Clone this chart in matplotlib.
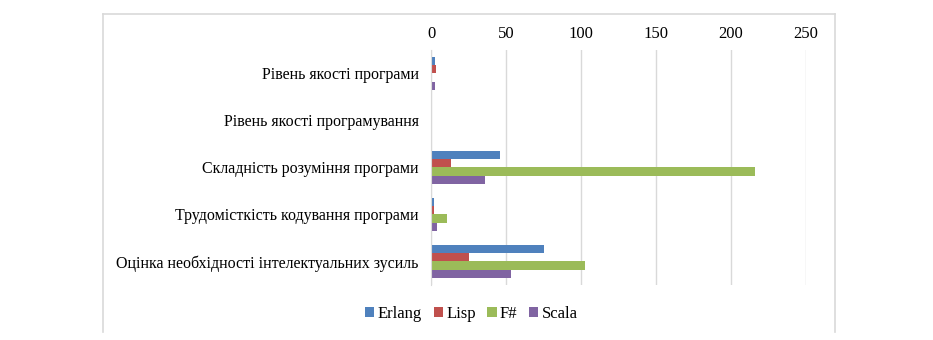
import matplotlib.pyplot as plt
import numpy as np
from matplotlib.lines import Line2D

categories = ['Рівень якості програми',
              'Рівень якості програмування',
              'Складність розуміння програми',
              'Трудомісткість кодування програми',
              'Оцінка необхідності інтелектуальних зусиль']
series = ['Erlang', 'Lisp', 'F#', 'Scala']
erlang = [2.4, 0.8, 46, 2.2, 75.5]
lisp = [3.1, 0.8, 13.5, 2.2, 25]
fsharp = [0.5, 0.5, 216, 10.5, 102.5]
scala = [2.4, 0.5, 36, 4.3, 53.5]
colors = ['#4F81BD', '#C0504D', '#9BBB59', '#8064A2']
xticks = [0, 50, 100, 150, 200, 250]

plt.rcParams['font.family'] = ['Liberation Serif', 'DejaVu Serif']

fig = plt.figure(figsize=(9.33, 3.40), dpi=100)
ax = fig.add_axes([0.462, 0.162, 0.4015, 0.691])

y = np.arange(len(categories))
h = 0.175
for i, (name, vals) in enumerate(zip(series, [erlang, lisp, fsharp, scala])):
    ax.barh(y + (i - 1.5) * h, vals, height=h, color=colors[i], label=name)

ax.set_xlim(0, 250)
ax.set_ylim(len(categories) - 0.5, -0.5)
ax.set_yticks(y)
ax.set_yticklabels(categories, fontsize=11.5)
ax.set_xticks(xticks)
ax.xaxis.tick_top()
ax.tick_params(axis='x', length=0, labelsize=12, pad=6)
ax.tick_params(axis='y', length=0, pad=9)
ax.grid(axis='x', color='#D9D9D9', linewidth=1)
ax.set_axisbelow(True)
for s in ['top', 'right', 'bottom']:
    ax.spines[s].set_visible(False)
ax.spines['left'].set_color('#D9D9D9')

fig.legend(loc='center', bbox_to_anchor=(0.5054, 0.076), ncol=4, frameon=False,
           fontsize=12, handlelength=0.55, handleheight=0.55, handletextpad=0.2,
           columnspacing=0.7)

# outer chart frame
W, H = 933, 340
for xs, ys in [([103, 103], [332, 14]), ([103, 835], [14, 14]), ([835, 835], [14, 332])]:
    fig.add_artist(Line2D([x / W for x in xs], [1 - v / H for v in ys],
                          color='#D9D9D9', linewidth=1.2))

plt.savefig('out.png', dpi=100)
